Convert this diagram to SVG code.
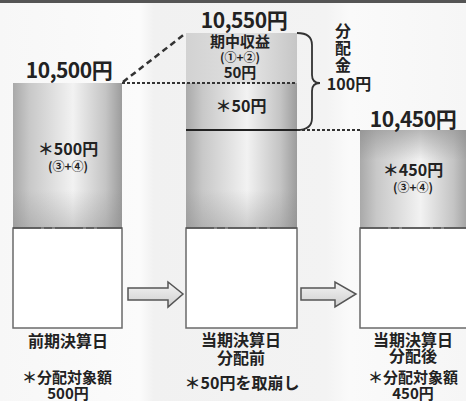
<svg xmlns="http://www.w3.org/2000/svg" width="466" height="401" viewBox="0 0 466 401">
<defs>
<linearGradient id="cyl" x1="0" y1="0" x2="1" y2="0">
<stop offset="0" stop-color="#a9a9a9"/>
<stop offset="0.15" stop-color="#c8c8c8"/>
<stop offset="0.55" stop-color="#f2f2f2"/>
<stop offset="0.85" stop-color="#c4c4c4"/>
<stop offset="1" stop-color="#9c9c9c"/>
</linearGradient>
<linearGradient id="lite" x1="0" y1="0" x2="1" y2="0">
<stop offset="0" stop-color="#d2d2d2"/>
<stop offset="0.6" stop-color="#e2e2e2"/>
<stop offset="1" stop-color="#c6c6c6"/>
</linearGradient>
<linearGradient id="topshade" x1="0" y1="0" x2="0" y2="1">
<stop offset="0" stop-color="#888" stop-opacity="0.55"/>
<stop offset="1" stop-color="#888" stop-opacity="0"/>
</linearGradient>
<linearGradient id="botshade" x1="0" y1="0" x2="0" y2="1">
<stop offset="0" stop-color="#888" stop-opacity="0"/>
<stop offset="1" stop-color="#888" stop-opacity="0.35"/>
</linearGradient>
<linearGradient id="arrowfill" x1="0" y1="0" x2="0" y2="1">
<stop offset="0" stop-color="#f4f4f4"/>
<stop offset="1" stop-color="#cfcfcf"/>
</linearGradient>
<linearGradient id="bg" x1="0" y1="0" x2="1" y2="0">
<stop offset="0" stop-color="#f7f7f7"/>
<stop offset="0.3" stop-color="#fbfbfb"/>
<stop offset="0.33" stop-color="#f1f1f1"/>
<stop offset="0.7" stop-color="#f3f3f3"/>
<stop offset="0.75" stop-color="#fafafa"/>
<stop offset="1" stop-color="#f6f6f6"/>
</linearGradient>
</defs>
<style>
text{font-family:"Noto Sans CJK JP","Noto Sans",sans-serif;font-weight:bold;fill:#222;text-anchor:middle}
.big{font-size:21px;letter-spacing:-0.5px}
.mid{font-size:16px}
.in{font-size:15px}
.sm{font-size:12px}
.lab{font-size:16px}
.lab2{font-size:15px}
.box{fill:#fff;stroke:#6a6a6a;stroke-width:1.5}
.boxtop{stroke:#555;stroke-width:1.5;stroke-dasharray:28 3 8 3}
.dot{stroke:#333;stroke-width:2;stroke-dasharray:3 2;fill:none}
.dash{stroke:#333;stroke-width:2.5;stroke-dasharray:6 4;fill:none}
.arrow{fill:url(#arrowfill);stroke:#555;stroke-width:1.5;stroke-linejoin:miter}
</style>
<rect x="0" y="0" width="466" height="401" fill="url(#bg)"/>
<rect x="0" y="0" width="466" height="3" fill="#555"/>

<g id="bar-prev">
<rect x="13" y="83" width="109" height="145" fill="url(#cyl)"/>
<rect x="13" y="190" width="109" height="38" fill="url(#botshade)"/>
<rect class="box" x="13" y="228" width="109" height="100"/>
<line class="boxtop" x1="13" y1="228" x2="122" y2="228"/>
<text class="big" x="69" y="78">10,500円</text>
<text class="mid" x="68" y="155">＊500円<tspan class="sm" x="68" y="171">(③+④)</tspan></text>
<text class="lab" x="68" y="347">前期決算日</text>
<text class="lab2" x="67" y="383">＊分配対象額<tspan x="68" y="399">500円</tspan></text>
</g>

<g id="bar-before">
<rect x="186" y="33" width="111" height="50" fill="url(#lite)"/>
<rect x="186" y="83" width="111" height="145" fill="url(#cyl)"/>
<rect x="186" y="190" width="111" height="38" fill="url(#botshade)"/>
<line x1="186" y1="130" x2="297" y2="130" stroke="#222" stroke-width="2"/>
<rect class="box" x="186" y="228" width="111" height="100"/>
<line class="boxtop" x1="186" y1="228" x2="297" y2="228"/>
<text class="big" x="244" y="28">10,550円</text>
<text class="in" x="240" y="47">期中収益<tspan class="sm" x="240" y="62">(①+②)</tspan><tspan x="240" y="78">50円</tspan></text>
<text class="mid" x="241" y="112">＊50円</text>
<text class="lab" x="241" y="346">当期決算日<tspan x="241" y="364">分配前</tspan><tspan x="242" y="389">＊50円を取崩し</tspan></text>
</g>

<g id="bar-after">
<rect x="360" y="130" width="110" height="98" fill="url(#cyl)"/>
<rect x="360" y="130" width="110" height="30" fill="url(#topshade)"/>
<rect class="box" x="360" y="228" width="110" height="100"/>
<line class="boxtop" x1="360" y1="228" x2="470" y2="228"/>
<text class="big" x="413" y="127">10,450円</text>
<text class="mid" x="413" y="176">＊450円<tspan class="sm" x="413" y="192">(③+④)</tspan></text>
<text class="lab" x="413" y="346">当期決算日<tspan x="413" y="362">分配後</tspan><tspan class="lab2" x="413" y="383">＊分配対象額</tspan><tspan class="lab2" x="413" y="399">450円</tspan></text>
</g>

<g id="distribution">
<text class="mid" x="343" y="37">分<tspan x="343" y="54">配</tspan><tspan x="343" y="71">金</tspan><tspan x="349" y="90">100円</tspan></text>
</g>

<g id="connectors">
<line class="dash" x1="123" y1="82" x2="186" y2="33"/>
<line class="dot" x1="122" y1="83" x2="297" y2="83"/>
<line class="dot" x1="297" y1="130" x2="360" y2="130"/>
<path d="M297,33 Q312,33 312,45 L312,75 Q312,83 320,83 Q312,83 312,91 L312,118 Q312,130 297,130" fill="none" stroke="#333" stroke-width="1.8"/>
<path class="arrow" d="M128,288 L168,288 L168,282 L183,294 L168,307 L168,300 L128,300 Z"/>
<path class="arrow" d="M301,288 L335,288 L335,282 L356,294 L335,307 L335,300 L301,300 Z"/>
</g>
</svg>
